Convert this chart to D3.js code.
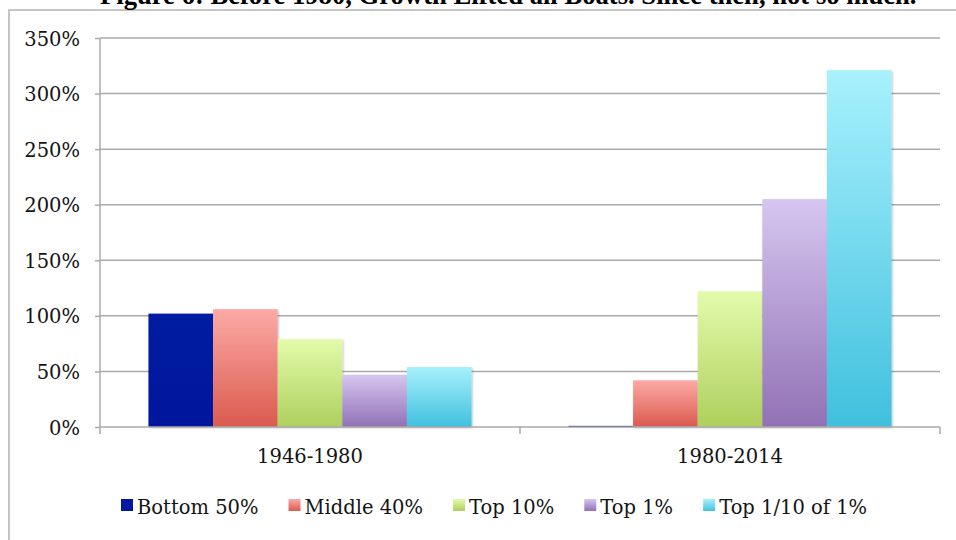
<!DOCTYPE html>
<html>
<head>
<meta charset="utf-8">
<script src="https://cdn.jsdelivr.net/npm/d3@7"></script>
<style>
body { margin: 0; background: #fff; }
text { font-family: "DejaVu Serif", serif; fill: #141414; }
</style>
</head>
<body>
<div id="plot"></div>
<script>

// data
var periods = ["1946-1980", "1980-2014"];
var groups = ["Bottom 50%", "Middle 40%", "Top 10%", "Top 1%", "Top 1/10 of 1%"];
var bottom50 = [102, 1];
var middle40 = [106, 42];
var top10 = [79, 122];
var top1 = [47, 205];
var top01 = [54, 321];
var yTicks = [0, 50, 100, 150, 200, 250, 300, 350];

var series = [bottom50, middle40, top10, top1, top01];

// top / bottom colours of each bar gradient
var colTop = ["#001aa2", "#fcaaa6", "#e2fbab", "#d6c6f0", "#a8f1fd"];
var colBot = ["#00199c", "#db5a4e", "#afcf5d", "#9171b5", "#40c0de"];

var svg = d3.select("#plot")
	.append("svg")
	.attr("width", 956)
	.attr("height", 540);

var defs = svg.append("defs");

groups.forEach(function(g, i){
	var grad = defs.append("linearGradient")
		.attr("id", "grad" + i)
		.attr("x1", 0).attr("y1", 0)
		.attr("x2", 0).attr("y2", 1);
	grad.append("stop").attr("offset", "0%").attr("stop-color", colTop[i]);
	grad.append("stop").attr("offset", "100%").attr("stop-color", colBot[i]);
});

var shadow = defs.append("filter")
	.attr("id", "shadow")
	.attr("x", "-10%").attr("y", "-10%")
	.attr("width", "130%").attr("height", "130%");
shadow.append("feDropShadow")
	.attr("dx", 1).attr("dy", 1)
	.attr("stdDeviation", 1)
	.attr("flood-color", "#000")
	.attr("flood-opacity", 0.25);

// outer frame (only top and left edges show)
svg.append("path")
	.attr("d", "M9,540 V10 H956")
	.style("fill", "none")
	.style("stroke", "#b3b3b3")
	.style("stroke-width", 1.5);

// title, mostly cut off at the top of the picture (as in the source)
var title = svg.append("text")
	.attr("x", 100)
	.attr("y", 4)
	.style("font-family", "'Liberation Serif', serif")
	.style("font-weight", "bold")
	.style("font-size", "20px")
	.style("fill", "#000")
	.text("Figure 6: Before 1980, Growth Lifted all Boats. Since then, not so much.");
var tw = title.node().getComputedTextLength();
title.style("font-size", (20 * 817 / tw) + "px");

var y = d3.scaleLinear()
	.domain([0, 350])
	.range([427, 38]);

var x0 = d3.scaleBand()
	.domain(periods)
	.range([100, 940]);

var x1 = d3.scaleBand()
	.domain(groups)
	.range([0, x0.bandwidth()])
	.paddingInner(0)
	.paddingOuter(0.75);

// gridlines
svg.append("g")
	.selectAll("line")
	.data(yTicks.filter(function(d){ return d > 0; }))
	.join("line")
	.attr("x1", 100)
	.attr("x2", 940)
	.attr("y1", function(d){ return y(d); })
	.attr("y2", function(d){ return y(d); })
	.style("stroke", "#aaaaaa")
	.style("stroke-width", 1.5);

// y axis
var yAxis = svg.append("g")
	.attr("transform", "translate(100,0)")
	.call(d3.axisLeft(y)
		.tickValues(yTicks)
		.tickSize(5)
		.tickPadding(15)
		.tickFormat(function(d){ return d + "%"; }));
yAxis.select(".domain").remove();
yAxis.selectAll(".tick line").style("stroke", "#aaaaaa").style("stroke-width", 1.5);
yAxis.selectAll(".tick text")
	.style("font-family", "'DejaVu Serif', serif")
	.style("font-size", "19.5px")
	.style("fill", "#141414")
	.attr("dy", "0.36em");
svg.append("line")
	.attr("x1", 100).attr("x2", 100)
	.attr("y1", 38).attr("y2", 427)
	.style("stroke", "#aaaaaa")
	.style("stroke-width", 1.5);

// bars
series.forEach(function(vals, i){
	svg.append("g")
		.selectAll("rect")
		.data(periods)
		.join("rect")
		.attr("x", function(p){ return x0(p) + x1(groups[i]); })
		.attr("y", function(p, j){ return y(vals[j]); })
		.attr("width", x1.bandwidth())
		.attr("height", function(p, j){ return y(0) - y(vals[j]); })
		.style("fill", "url(#grad" + i + ")")
		.style("filter", "url(#shadow)");
});

// x axis line, boundary ticks and category labels
svg.append("line")
	.attr("x1", 100).attr("x2", 940)
	.attr("y1", y(0)).attr("y2", y(0))
	.style("stroke", "#aaaaaa")
	.style("stroke-width", 1.5);

var bounds = periods.map(function(p){ return x0(p); }).concat([x0(periods[periods.length - 1]) + x0.bandwidth()]);
svg.append("g")
	.selectAll("line")
	.data(bounds)
	.join("line")
	.attr("x1", function(d){ return d; })
	.attr("x2", function(d){ return d; })
	.attr("y1", y(0))
	.attr("y2", y(0) + 7)
	.style("stroke", "#aaaaaa")
	.style("stroke-width", 1.5);

svg.append("g")
	.selectAll("text")
	.data(periods)
	.join("text")
	.attr("x", function(p){ return x0(p) + x0.bandwidth() / 2; })
	.attr("y", 463)
	.attr("text-anchor", "middle")
	.style("font-size", "19.5px")
	.text(function(p){ return p; });

// legend
var lx = 121;
groups.forEach(function(g, i){
	svg.append("rect")
		.attr("x", lx)
		.attr("y", 499)
		.attr("width", 12)
		.attr("height", 12)
		.style("fill", "url(#grad" + i + ")");
	var t = svg.append("text")
		.attr("x", lx + 16)
		.attr("y", 514)
		.style("font-size", "19.5px")
		.text(g);
	lx += 16 + t.node().getComputedTextLength() + 30;
});

</script>
</body>
</html>
